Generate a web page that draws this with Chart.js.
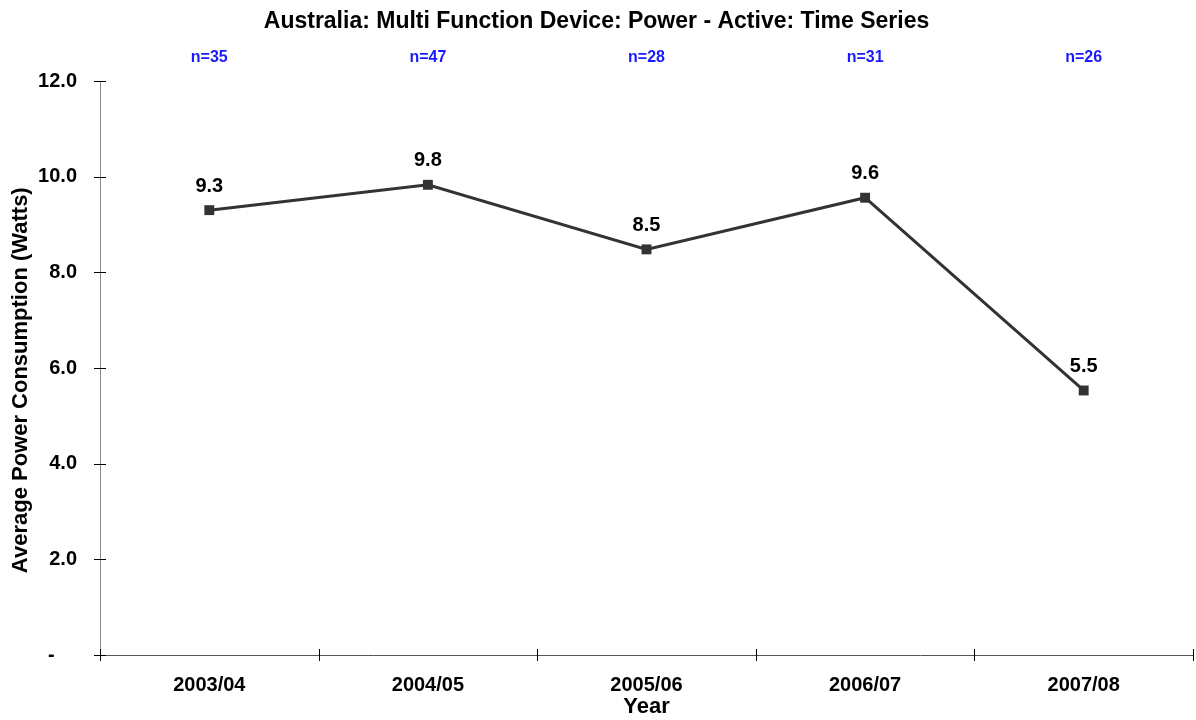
<!DOCTYPE html>
<html>
<head>
<meta charset="utf-8">
<script src="https://cdn.jsdelivr.net/npm/chart.js@4/dist/chart.umd.min.js"></script>
<style>
html,body{margin:0;padding:0;background:#fff;}
canvas{display:block;}
</style>
</head>
<body>
<canvas id="c" width="1196" height="720"></canvas>
<script>
const categories = ['2003/04', '2004/05', '2005/06', '2006/07', '2007/08'];
const values = [9.3, 9.83, 8.48, 9.56, 5.53];
const sampleSizes = ['n=35', 'n=47', 'n=28', 'n=31', 'n=26'];
const yTicks = [0, 2, 4, 6, 8, 10, 12];

const FONT = "'Liberation Sans', Arial, Helvetica, sans-serif";

const decorPlugin = {
  id: 'decor',
  afterDraw(chart) {
    const ctx = chart.ctx;
    const xs = chart.scales.x, ys = chart.scales.y;
    const area = chart.chartArea;
    ctx.save();
    // tick marks crossing axes
    ctx.strokeStyle = '#000';
    ctx.lineWidth = 1;
    ctx.beginPath();
    ys.ticks.forEach((t, i) => {
      const y = Math.round(ys.getPixelForTick(i)) + 0.5;
      ctx.moveTo(area.left - 6, y);
      ctx.lineTo(area.left + 6, y);
    });
    const n = categories.length;
    for (let i = 0; i <= n; i++) {
      const x = Math.round(area.left + (area.right - area.left) * i / n) + 0.5;
      ctx.moveTo(x, area.bottom - 6);
      ctx.lineTo(x, area.bottom + 6);
    }
    ctx.stroke();
    // data labels
    const meta = chart.getDatasetMeta(0);
    ctx.fillStyle = '#000';
    ctx.font = 'bold 20px ' + FONT;
    ctx.textAlign = 'center';
    ctx.textBaseline = 'middle';
    meta.data.forEach((pt, i) => {
      ctx.fillText(values[i].toFixed(1), pt.x, pt.y - 24);
    });
    // sample sizes
    ctx.fillStyle = '#1a1aff';
    ctx.font = 'bold 16px ' + FONT;
    sampleSizes.forEach((s, i) => {
      ctx.fillText(s, xs.getPixelForValue(i), 58);
    });
    ctx.restore();
  }
};

new Chart(document.getElementById('c'), {
  type: 'line',
  data: {
    labels: categories,
    datasets: [{
      data: values,
      borderColor: '#333333',
      backgroundColor: '#333333',
      borderWidth: 3,
      pointStyle: 'rect',
      pointRadius: 7,
      pointHoverRadius: 7,
      pointBorderWidth: 0,
      tension: 0,
      fill: false
    }]
  },
  options: {
    responsive: false,
    animation: false,
    events: [],
    layout: { autoPadding: false, padding: { left: 0, right: 3, top: 0, bottom: 0 } },
    plugins: {
      legend: { display: false },
      tooltip: { enabled: false },
      title: {
        display: true,
        text: 'Australia: Multi Function Device: Power - Active: Time Series',
        color: '#000',
        font: { family: FONT, size: 23, weight: 'bold', lineHeight: 1.2 },
        padding: { top: 8.2, bottom: 45.2 }
      }
    },
    scales: {
      x: {
        type: 'category',
        offset: true,
        grid: { display: false, drawTicks: false, tickLength: 0, offset: true },
        border: { display: true, color: '#555', width: 1 },
        ticks: {
          color: '#000',
          padding: 18,
          maxRotation: 0,
          font: { family: FONT, size: 20, weight: 'bold' }
        },
        title: {
          display: true,
          text: 'Year',
          color: '#000',
          font: { family: FONT, size: 22, weight: 'bold', lineHeight: 1.2 },
          padding: { top: 0, bottom: 0 }
        },
        afterFit(scale) { scale.height = 65; }
      },
      y: {
        min: 0,
        max: 12,
        grid: { display: false, drawTicks: false, tickLength: 0 },
        border: { display: true, color: '#888', width: 1 },
        afterBuildTicks(scale) { scale.ticks = yTicks.map(v => ({ value: v })); },
        ticks: {
          color: '#000',
          padding: 23,
          font: { family: FONT, size: 20, weight: 'bold' },
          callback: (v) => v === 0 ? '-\u00a0\u00a0\u00a0\u00a0' : Number(v).toFixed(1)
        },
        title: {
          display: true,
          text: 'Average Power Consumption (Watts)\u00a0\u00a0\u00a0\u00a0',
          color: '#000',
          font: { family: FONT, size: 22, weight: 'bold', lineHeight: 1.2 },
          padding: { top: 8, bottom: 0 }
        },
        afterFit(scale) { scale.width = 100; }
      }
    }
  },
  plugins: [decorPlugin]
});
</script>
</body>
</html>
